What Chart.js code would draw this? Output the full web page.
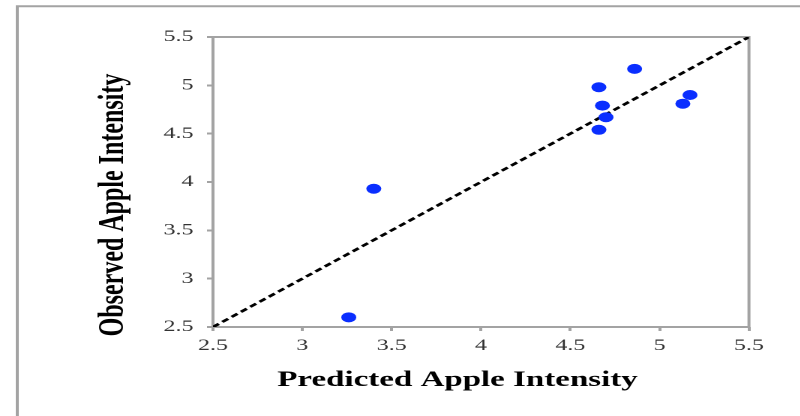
<!DOCTYPE html>
<html>
<head>
<meta charset="utf-8">
<script src="https://cdn.jsdelivr.net/npm/chart.js@4/dist/chart.umd.min.js"></script>
<style>
  html, body { margin: 0; padding: 0; background: #ffffff; overflow: hidden; }
  #wrap {
    position: absolute; left: 0; top: 0;
    width: 533.333px; height: 416px;
    transform: scaleX(1.5); transform-origin: 0 0;
  }
</style>
</head>
<body>
<div id="wrap"><canvas id="c"></canvas></div>
<script>
// ---- data ----
const predicted = [3.26, 3.40, 4.66, 4.86, 4.68, 4.70, 4.66, 5.13, 5.17];
const observed  = [2.60, 3.93, 4.98, 5.17, 4.79, 4.67, 4.54, 4.81, 4.90];
const lineX = [2.5, 5.5];
const lineY = [2.5, 5.5];
const xTicks = [2.5, 3, 3.5, 4, 4.5, 5, 5.5];
const yTicks = [2.5, 3, 3.5, 4, 4.5, 5, 5.5];
const xTickLabels = ['2.5', '3', '3.5', '4', '4.5', '5', '5.5'];
const yTickLabels = ['2.5', '3', '3.5', '4', '4.5', '5', '5.5'];
const X_TITLE = 'Predicted Apple Intensity';
const Y_TITLE = 'Observed Apple Intensity';

const points = predicted.map((p, i) => ({ x: p, y: observed[i] }));
const diag = lineX.map((v, i) => ({ x: v, y: lineY[i] }));

const FONT = '"Liberation Serif", "Times New Roman", serif';
const GRAY = '#a3a3a3';

const decor = {
  id: 'decor',
  beforeDatasetsDraw(chart) {
    const ctx = chart.ctx;
    const a = chart.chartArea;
    ctx.save();
    // outer frame (top and left edges)
    ctx.strokeStyle = GRAY;
    ctx.lineWidth = 2;
    ctx.beginPath();
    ctx.moveTo(11.5, 416);
    ctx.lineTo(11.5, 6.2);
    ctx.lineTo(540, 6.2);
    ctx.stroke();
    // plot area box
    ctx.lineWidth = 2;
    ctx.strokeRect(a.left, a.top, a.right - a.left, a.bottom - a.top);
    // axis titles
    ctx.fillStyle = '#000';
    ctx.font = 'bold 22px ' + FONT;
    ctx.textAlign = 'center';
    ctx.textBaseline = 'alphabetic';
    ctx.fillText(X_TITLE, 305, 386);
    ctx.translate(82, 205);
    ctx.rotate(-Math.PI / 2);
    ctx.font = 'bold 24px ' + FONT;
    ctx.fillText(Y_TITLE, 0, 0);
    ctx.restore();
  }
};

new Chart(document.getElementById('c'), {
  type: 'scatter',
  data: {
    datasets: [
      {
        type: 'line',
        data: diag,
        borderColor: '#000',
        borderWidth: 2.5,
        borderDash: [5, 3],
        pointRadius: 0,
        fill: false,
        order: 2
      },
      {
        data: points,
        backgroundColor: '#0a2eff',
        borderColor: '#0a2eff',
        pointRadius: 5,
        borderWidth: 0,
        order: 1
      }
    ]
  },
  options: {
    responsive: true,
    maintainAspectRatio: false,
    animation: false,
    devicePixelRatio: 2,
    layout: { padding: { top: 37, right: 34, bottom: 0, left: 0 } },
    plugins: { legend: { display: false }, tooltip: { enabled: false } },
    scales: {
      x: {
        type: 'linear', min: 2.5, max: 5.5,
        afterBuildTicks: (s) => { s.ticks = xTicks.map(v => ({ value: v })); },
        afterFit: (s) => { s.height = 89; },
        ticks: {
          callback: (v, i) => xTickLabels[i],
          font: { family: FONT, size: 16 },
          color: '#333',
          padding: 5,
          maxRotation: 0
        },
        grid: { drawOnChartArea: false, tickLength: 4, color: GRAY, lineWidth: 2 },
        border: { display: false },
        title: { display: false }
      },
      y: {
        type: 'linear', min: 2.5, max: 5.5,
        afterBuildTicks: (s) => { s.ticks = yTicks.map(v => ({ value: v })); },
        afterFit: (s) => { s.width = 142; },
        ticks: {
          callback: (v, i) => yTickLabels[i],
          font: { family: FONT, size: 16 },
          color: '#333',
          padding: 9
        },
        grid: { drawOnChartArea: false, tickLength: 4, color: GRAY, lineWidth: 2 },
        border: { display: false },
        title: { display: false }
      }
    }
  },
  plugins: [decor]
});
</script>
</body>
</html>
